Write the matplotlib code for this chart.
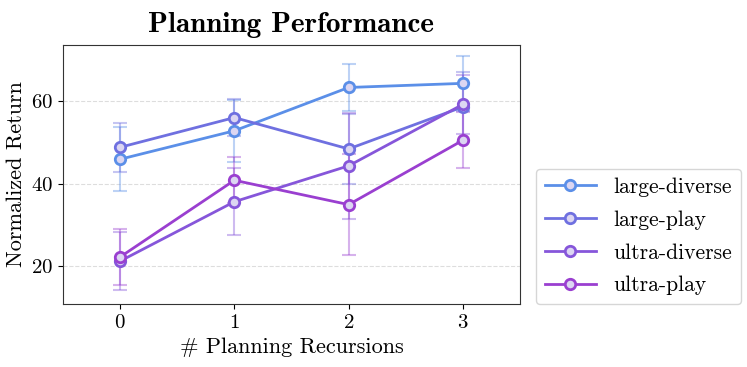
import matplotlib
matplotlib.use("Agg")
import matplotlib.pyplot as plt
import numpy as np

plt.rcParams['font.family'] = ['cmr10', 'DejaVu Serif']
plt.rcParams['mathtext.fontset'] = 'cm'
plt.rcParams['axes.formatter.use_mathtext'] = True

recursions = [0, 1, 2, 3]
series_names = ["large-diverse", "large-play", "ultra-diverse", "ultra-play"]
large_diverse = [45.9, 52.8, 63.3, 64.3]
large_diverse_err = [7.7, 7.5, 5.7, 6.6]
large_play = [48.8, 56.0, 48.4, 58.6]
large_play_err = [5.9, 4.4, 8.5, 8.4]
ultra_diverse = [21.2, 35.6, 44.3, 59.2]
ultra_diverse_err = [7.0, 8.1, 12.9, 7.1]
ultra_play = [22.2, 40.8, 34.9, 50.5]
ultra_play_err = [6.8, 5.6, 12.2, 6.8]
colors = ["#5b8fe8", "#6f70e0", "#8656da", "#9a3fd0"]

values = [large_diverse, large_play, ultra_diverse, ultra_play]
errs = [large_diverse_err, large_play_err, ultra_diverse_err, ultra_play_err]

fig = plt.figure(figsize=(7.47, 3.67), dpi=100)
ax = fig.add_axes([63/747, 1-304/367, (520-63)/747, (304-45)/367])

for name, v, e, c in zip(series_names, values, errs, colors):
    ax.errorbar(recursions, v, yerr=e, fmt='none', ecolor=c, alpha=0.4,
                capsize=5, elinewidth=1.5, capthick=1.5, zorder=2)
    ax.plot(recursions, v, color=c, lw=2, marker='o', markersize=7.5,
            markerfacecolor='#dcd6f2', markeredgecolor=c, markeredgewidth=2,
            label=name, zorder=3)

ax.set_xlim(-0.5, 3.5)
ax.set_ylim(10.8, 73.6)
ax.set_xticks(recursions)
ax.set_yticks([20, 40, 60])
ax.tick_params(labelsize=15)
ax.yaxis.grid(True, linestyle='--', color='#dddddd', lw=0.8)
ax.set_axisbelow(True)
ax.set_xlabel("# Planning Recursions", fontsize=16)
ax.set_ylabel("Normalized Return", fontsize=16)
ax.set_title("Planning Performance", fontsize=21, family=['cmb10', 'DejaVu Serif'], pad=9)
for s in ax.spines.values():
    s.set_color('#333333')

leg = ax.legend(loc='lower left', bbox_to_anchor=(1.035, 0.0),
                fontsize=15.5, frameon=True, handlelength=2.4, labelspacing=0.62,
                borderaxespad=0.0)
leg.get_frame().set_edgecolor('#cccccc')

fig.savefig("out.png", dpi=100)
